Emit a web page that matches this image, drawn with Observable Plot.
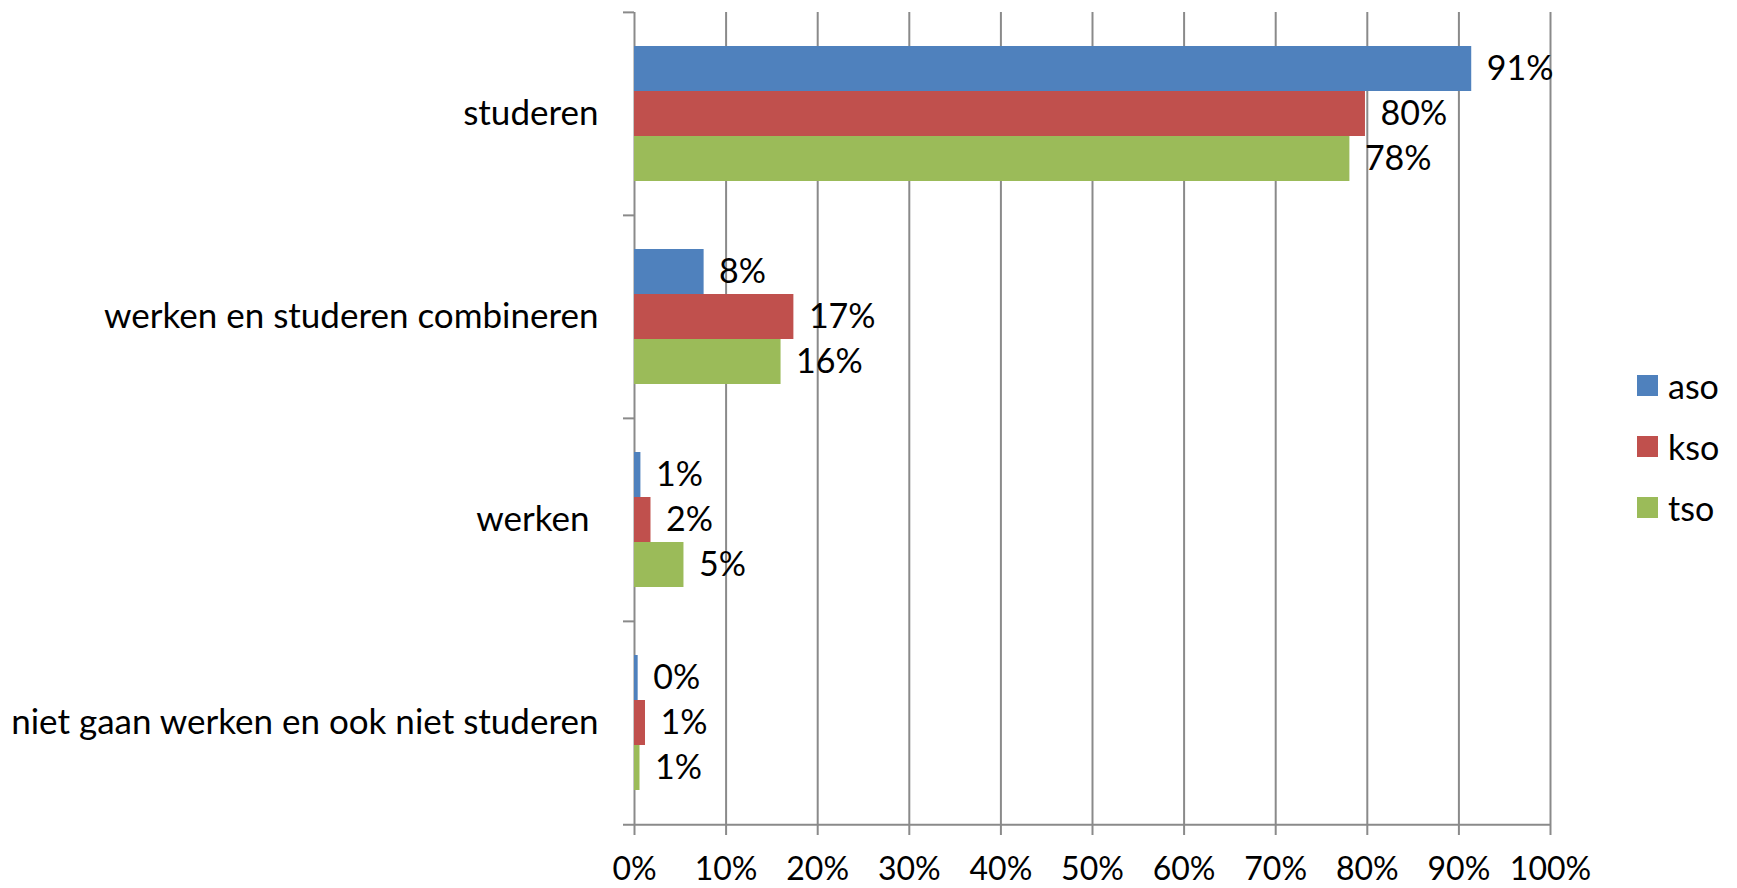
<!DOCTYPE html>
<html>
<head>
<meta charset="utf-8">
<script src="https://cdn.jsdelivr.net/npm/d3@7"></script>
<script src="https://cdn.jsdelivr.net/npm/@observablehq/plot@0.6"></script>
<style>
  html, body { margin: 0; padding: 0; background: #fff; }
  #wrap { position: relative; width: 1737px; height: 888px; font-family: Lato, "Open Sans", sans-serif; }
  #legend { position: absolute; left: 1637px; top: 355px; font-size: 34px; color: #000; }
  .item { display: flex; align-items: center; height: 61px; }
  .sw { width: 21px; height: 21px; margin-right: 10px; }
</style>
</head>
<body>
<div id="wrap">
  <div id="chart"></div>
  <div id="legend"></div>
</div>
<script>
const categories = ["studeren", "werken en studeren combineren", "werken\u00a0", "niet gaan werken en ook niet studeren"];
const series = ["aso", "kso", "tso"];
const colors = ["#4F81BD", "#C0504D", "#9BBB59"];
const aso = [91.4, 7.6, 0.7, 0.4];
const kso = [79.8, 17.4, 1.8, 1.2];
const tso = [78.1, 16.0, 5.4, 0.6];
const xTicks = [0, 10, 20, 30, 40, 50, 60, 70, 80, 90, 100];

const values = {aso, kso, tso};
const data = [];
categories.forEach((c, i) => series.forEach(s => data.push({cat: c, s, v: values[s][i]})));

const W = 1737, H = 888, mT = 11, mB = 64, mL = 634, mR = 187;
const facetH = (H - mT - mB) / categories.length;
const gridColor = "#8a8a8a";

const plot = Plot.plot({
  width: W, height: H,
  marginTop: mT, marginBottom: mB, marginLeft: mL, marginRight: mR,
  style: {fontFamily: "Lato, 'Open Sans', sans-serif", fontSize: "34px", color: "#000", background: "#fff", overflow: "visible"},
  x: {domain: [0, 100]},
  y: {domain: series, paddingInner: 0, paddingOuter: 0.744, axis: null},
  fy: {domain: categories, padding: 0},
  color: {domain: series, range: colors},
  marks: [
    Plot.ruleX(xTicks, {stroke: gridColor, strokeWidth: 2}),
    Plot.barX(data, {fy: "cat", y: "s", x: "v", fill: "s"}),
    Plot.text(data, {fy: "cat", y: "s", x: "v", text: d => Math.round(d.v) + "%", textAnchor: "start", dx: 15, fill: "#000", fontSize: 34}),
    Plot.ruleY(categories.map(c => ({cat: c})), {fy: "cat", y: () => "kso", dy: -facetH / 2, x1: () => 0, x2: () => 0, insetLeft: -11, stroke: gridColor, strokeWidth: 2}),
    Plot.ruleY([{cat: categories[categories.length - 1]}], {fy: "cat", y: () => "kso", dy: facetH / 2, x1: () => 0, x2: () => 100, insetLeft: -11, stroke: gridColor, strokeWidth: 2}),
    Plot.axisX({anchor: "bottom", ticks: xTicks, tickFormat: d => d + "%", tickSize: 11, tickPadding: 22, stroke: gridColor, strokeWidth: 2, label: null, fontSize: 32}),
    Plot.axisFy({anchor: "left", tickSize: 0, tickPadding: 36, label: null, fontSize: 35})
  ]
});
document.getElementById("chart").appendChild(plot);

const legend = document.getElementById("legend");
series.forEach((s, i) => {
  const it = document.createElement("div");
  it.className = "item";
  const sw = document.createElement("div");
  sw.className = "sw";
  sw.style.background = colors[i];
  const t = document.createElement("span");
  t.textContent = s;
  it.appendChild(sw); it.appendChild(t);
  legend.appendChild(it);
});
</script>
</body>
</html>
